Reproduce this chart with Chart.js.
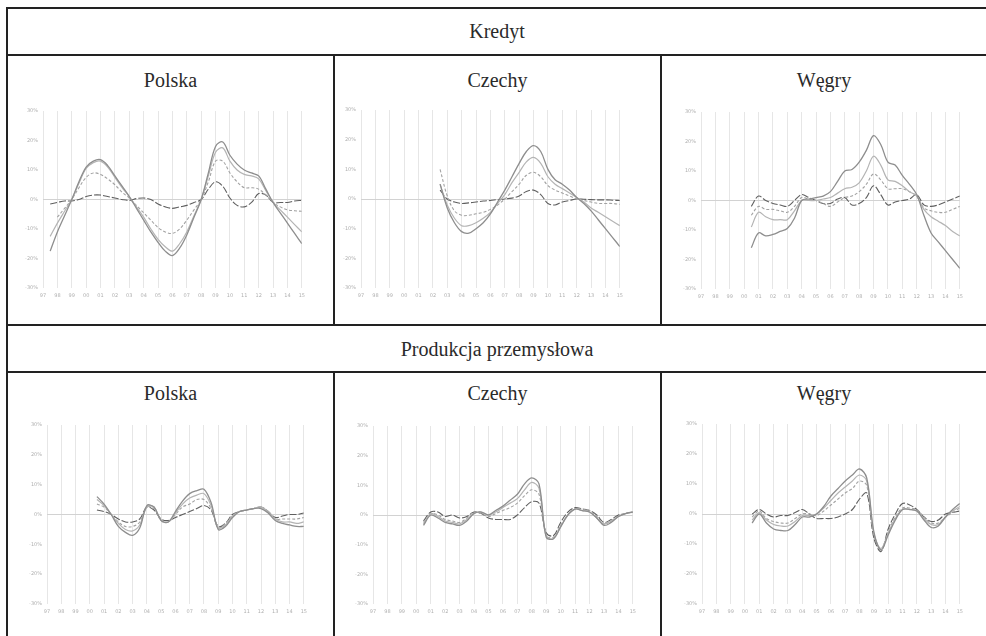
<!DOCTYPE html>
<html>
<head>
<meta charset="utf-8">
<script src="https://cdn.jsdelivr.net/npm/chart.js@4.4.1/dist/chart.umd.min.js"></script>
<style>
    html, body { margin: 0; padding: 0; background: #fff; }
    body { width: 986px; height: 636px; position: relative; overflow: hidden; font-family: "Liberation Serif", serif; }
    .hl, .vl { position: absolute; background: #222; }
    .hl { height: 2px; }
    .vl { width: 2px; }
    .title { position: absolute; text-align: center; font-size: 20px; color: #2a2a2a; line-height: 24px; }
    canvas { position: absolute; }
</style>
</head>
<body>
<div class="hl" style="left:6px; top:7px; width:990px;"></div>
<div class="hl" style="left:6px; top:54px; width:990px;"></div>
<div class="hl" style="left:6px; top:324px; width:990px;"></div>
<div class="hl" style="left:6px; top:371px; width:990px;"></div>
<div class="vl" style="left:6px; top:7px; height:640px;"></div>
<div class="vl" style="left:333px; top:54px; height:271px;"></div>
<div class="vl" style="left:660px; top:54px; height:271px;"></div>
<div class="vl" style="left:333px; top:371px; height:270px;"></div>
<div class="vl" style="left:660px; top:371px; height:270px;"></div>

<div class="title" style="left:8px; width:978px; top:19px;">Kredyt</div>
<div class="title" style="left:8px; width:325px; top:68px;">Polska</div>
<div class="title" style="left:335px; width:325px; top:68px;">Czechy</div>
<div class="title" style="left:662px; width:324px; top:68px;">Węgry</div>
<div class="title" style="left:8px; width:978px; top:337px;">Produkcja przemysłowa</div>
<div class="title" style="left:8px; width:325px; top:381px;">Polska</div>
<div class="title" style="left:335px; width:325px; top:381px;">Czechy</div>
<div class="title" style="left:662px; width:324px; top:381px;">Węgry</div>

<canvas id="c1"></canvas>
<canvas id="c2"></canvas>
<canvas id="c3"></canvas>
<canvas id="c4"></canvas>
<canvas id="c5"></canvas>
<canvas id="c6"></canvas>

<script>
// half-year time points, 1997 .. 2015
const t = [1997, 1997.5, 1998, 1998.5, 1999, 1999.5, 2000, 2000.5, 2001, 2001.5,
           2002, 2002.5, 2003, 2003.5, 2004, 2004.5, 2005, 2005.5, 2006, 2006.5,
           2007, 2007.5, 2008, 2008.5, 2009, 2009.5, 2010, 2010.5, 2011, 2011.5,
           2012, 2012.5, 2013, 2013.5, 2014, 2014.5, 2015];
const yearMin = 1997;
const yearMax = 2015;
const yMin = -30;
const yMax = 30;

// Kredyt - Polska
const krPL_a = [null, -17.5, -11, -5.5, 0, 6, 11, 13, 13.5, 11.5, 8, 4.5, 1, -3, -7, -11, -14.5, -17.5, -19, -16.5, -12, -6, 0, 9, 18, 19.5, 15, 12, 10, 9, 8, 3.5, -1, -4.5, -8, -11.5, -15];
const krPL_b = [null, -12.5, -8, -4, 0, 5.5, 10.5, 12.5, 13, 11, 7.5, 4, 1, -2.5, -6, -10, -13.5, -16, -17.5, -15, -11, -5.5, 0, 8, 16, 17.5, 13, 10, 8.5, 8, 7, 3, -1, -3.5, -6, -8.5, -11];
const krPL_c = [null, null, -6, -3, 0, 4, 7.5, 9, 8.5, 7, 5, 2.5, 0.5, -2, -4.5, -7, -9.5, -11, -11.5, -10, -7, -3.5, 0, 6, 13, 13, 9, 6, 4, 4, 3.5, 1.5, -1, -2.5, -3.5, -3.8, -4];
const krPL_d = [null, -1.5, -1, -0.5, -0.5, 0, 1, 1.5, 1.5, 1, 0.5, 0, -0.3, 0.3, 0.5, 0, -1.5, -2.5, -3, -2.5, -2, -1, 0, 3.5, 6, 4.5, 0.5, -2, -2.5, -1, 2, 1.5, -1, -1, -1, -0.5, -0.3];

// Kredyt - Czechy
const krCZ_a = [null, null, null, null, null, null, null, null, null, null, null, 5, -3, -8, -11, -11.5, -10, -8, -5, -1, 3, 7.5, 12, 16, 18, 16, 10, 6.5, 5, 3, 0.5, -1.5, -4, -7, -10, -13, -16];
const krCZ_b = [null, null, null, null, null, null, null, null, null, null, null, 5, -2, -6.5, -9, -9, -8, -6.5, -4.5, -1.5, 1.5, 5.5, 9, 12.5, 14, 12, 7.5, 5, 3.5, 2, 0.5, -1, -3, -4.5, -6, -7.5, -9];
const krCZ_c = [null, null, null, null, null, null, null, null, null, null, null, 10, 1, -4, -5.5, -5.5, -5, -4.5, -3.5, -2, 0, 2.5, 5, 8, 9, 7.5, 4.5, 3, 2, 1, 0, -0.5, -1, -1.5, -1.5, -1.5, -1.8];
const krCZ_d = [null, null, null, null, null, null, null, null, null, null, null, 3, 0, -1, -1.5, -1.3, -1, -0.7, -0.5, -0.2, 0, 0.3, 1, 2.5, 3, 1.5, -1.5, -2, -1, -0.5, 0, -0.1, -0.2, -0.3, -0.3, -0.4, -0.5];

// Kredyt - Węgry
const krHU_a = [null, null, null, null, null, null, null, -16, -11, -12, -11.5, -10.5, -9.5, -6, 0, 0.5, 1, 1.5, 3, 6.5, 10, 10.5, 13, 17, 22, 19, 13, 12, 8.5, 5.5, 2, -5, -11, -14, -17, -20, -23];
const krHU_b = [null, null, null, null, null, null, null, -9, -4, -5.5, -6.5, -6.5, -6.5, -3.5, 0, 0, 0, 0.5, 1, 2.5, 4, 4.5, 6, 10, 15, 12, 7, 6.5, 5, 3, 1.5, -3, -5.5, -7, -8.5, -10.5, -12];
const krHU_c = [null, null, null, null, null, null, null, -5, -2, -3, -3, -3.5, -4, -2, 1, 0.5, 0, -1, -2, -0.5, 1, 1.5, 3, 5.5, 9, 7, 4, 4, 4, 3, 1.5, -2.5, -3.5, -4, -4, -3, -2];
const krHU_d = [null, null, null, null, null, null, null, -2, 1.5, 0, -1, -1.5, -2, 0, 2, 1, 0, -1, -1, 0.5, 1, -1.5, -1, 1, 5, 2, -1.5, -0.5, 0, 0.5, 2, -1.5, -2, -1.5, -0.5, 0.5, 1.5];

// Produkcja przemysłowa - Polska
const prPL_a = [null, null, null, null, null, null, null, 6, 3.5, 0, -4, -6, -7, -4.5, 3, 2.5, -2, -2.5, 1, 4.5, 7, 8, 8.5, 4, -5, -4, -1, 1, 1.5, 2, 2, 0.5, -2, -3, -3.5, -4, -4];
const prPL_b = [null, null, null, null, null, null, null, 5, 3, 0, -3, -5, -5.5, -3.5, 2.5, 2.5, -2, -2.5, 0.5, 3.5, 5.5, 6.5, 7, 3, -4.5, -3.5, -0.5, 1, 1.5, 2, 2.5, 1, -1.5, -2.5, -2.5, -3, -2.5];
const prPL_c = [null, null, null, null, null, null, null, 3.5, 2.5, 0, -2.5, -4, -4, -2.5, 2.5, 2, -2, -2.5, 0, 2.5, 3.5, 5, 5, 2, -4.5, -3, -0.5, 1, 1.5, 2, 2.5, 1, -1.5, -1.5, -1.5, -1.5, -1];
const prPL_d = [null, null, null, null, null, null, null, 1.5, 1, 0, -1.5, -2.5, -2.5, -1.5, 2.5, 1.5, -1.5, -2, -1, 0, 1, 2, 3, 1.5, -4, -3, 0, 1, 1.5, 2, 2.5, 1, -1, -0.5, 0, 0, 0.5];

// Produkcja przemysłowa - Czechy
const prCZ_a = [null, null, null, null, null, null, null, -3.5, 0, -1, -2.5, -3, -3.5, -2, 0.5, 1, 0, 1.5, 3, 5, 7, 10.5, 12.5, 10.5, -7.5, -8, -4, 0, 2, 1.5, 1, -1, -3.5, -2.5, -0.5, 0.5, 1];
const prCZ_b = [null, null, null, null, null, null, null, -3, 0.5, -0.5, -2, -2.5, -3, -1.5, 0.5, 1, 0, 1, 2.5, 4, 5.5, 8.5, 11, 9, -7, -8, -4, 0, 2, 1.5, 1, -1, -3, -2, -0.5, 0.5, 1];
const prCZ_c = [null, null, null, null, null, null, null, -2.5, 0.5, 0, -1.5, -2, -2.5, -1, 1, 0.5, -0.5, 0.5, 1.5, 2.5, 4, 6.5, 8.5, 7, -7, -7.5, -3.5, 0, 2, 2, 1.5, -0.5, -3, -2, -0.5, 0.5, 1];
const prCZ_d = [null, null, null, null, null, null, null, -2, 1, 1, -0.5, 0, -1, -0.5, 1, 0.5, -1, -1.5, -1.5, -1.5, 0, 2.5, 4.5, 4, -6, -7, -2.5, 1, 2.5, 2, 1.5, 0, -2.5, -1.5, 0, 0.5, 1];

// Produkcja przemysłowa - Węgry
const prHU_a = [null, null, null, null, null, null, null, -3, 0, -3, -5, -5.5, -5.5, -3.5, -1, -1, 0, 2.5, 6, 8.5, 11, 13, 15, 12, -6, -12, -7, -2, 1.5, 1.5, 1, -2, -4.5, -4, -1, 1.5, 3.5];
const prHU_b = [null, null, null, null, null, null, null, -2, 0.5, -2, -3.5, -4, -4, -2.5, -0.5, -0.5, 0, 2, 4.5, 7, 9, 11, 13, 11, -6.5, -11.5, -6.5, -1.5, 1.5, 1.5, 1, -1.5, -3.5, -3.5, -1, 1, 2.5];
const prHU_c = [null, null, null, null, null, null, null, -1, 1, -1.5, -2.5, -3, -3, -1.5, 0, 0, -0.5, 1, 3, 5, 7, 8.5, 11, 9.5, -7, -11.5, -6, -1, 2, 2, 1.5, -1, -3, -3, -1, 0.5, 2];
const prHU_d = [null, null, null, null, null, null, null, 0, 1.5, 0, -1, -0.5, -0.5, 0.5, 1.5, 0, -1.5, -1.5, -1.5, -1, 0, 1.5, 5, 7, -8, -12.5, -5, 0, 3.5, 3, 1.5, -1, -2.5, -2, 0, 0.5, 1];

const lineStyles = [
    { color: '#8e8e8e', width: 1.3, dash: [] },
    { color: '#b4b4b4', width: 1.2, dash: [] },
    { color: '#a2a2a2', width: 1.1, dash: [3, 2] },
    { color: '#5f5f5f', width: 1.1, dash: [7, 2] }
];

// plot areas [left, top, right, bottom]
const charts = [
    { id: 'c1', area: [43, 109, 302, 288], series: [krPL_a, krPL_b, krPL_c, krPL_d] },
    { id: 'c2', area: [361, 108, 620, 288], series: [krCZ_a, krCZ_b, krCZ_c, krCZ_d] },
    { id: 'c3', area: [701, 110, 960, 289], series: [krHU_a, krHU_b, krHU_c, krHU_d] },
    { id: 'c4', area: [47, 423, 304, 604], series: [prPL_a, prPL_b, prPL_c, prPL_d] },
    { id: 'c5', area: [373, 424, 633, 604], series: [prCZ_a, prCZ_b, prCZ_c, prCZ_d] },
    { id: 'c6', area: [702, 422, 960, 604], series: [prHU_a, prHU_b, prHU_c, prHU_d] }
];

const yAxisW = 34;
const xAxisH = 18;
const padTop = 6;
const padRight = 8;

function toPoints(values) {
    return t.map((x, i) => ({ x: x, y: values[i] })).filter(p => p.y !== null);
}

charts.forEach(function (c) {
    const [L, T, R, B] = c.area;
    const canvas = document.getElementById(c.id);
    canvas.style.left = (L - yAxisW) + 'px';
    canvas.style.top = (T - padTop) + 'px';
    canvas.width = (R - L) + yAxisW + padRight;
    canvas.height = (B - T) + padTop + xAxisH;

    // draw the dark, small series last so it sits on top
    const datasets = c.series.map((s, i) => ({
        data: toPoints(s),
        borderColor: lineStyles[i].color,
        borderWidth: lineStyles[i].width,
        borderDash: lineStyles[i].dash,
        pointRadius: 0,
        tension: 0.35,
        fill: false
    }));

    new Chart(canvas.getContext('2d'), {
        type: 'line',
        data: { datasets: datasets },
        options: {
            responsive: false,
            animation: false,
            layout: { padding: { top: padTop, right: padRight, left: 0, bottom: 0 } },
            plugins: { legend: { display: false }, tooltip: { enabled: false } },
            scales: {
                x: {
                    type: 'linear',
                    min: yearMin,
                    max: yearMax,
                    afterFit: function (scale) { scale.height = xAxisH; },
                    border: { display: false },
                    grid: { color: '#e6e6e6', lineWidth: 1, drawTicks: false },
                    ticks: {
                        stepSize: 1,
                        autoSkip: false,
                        maxRotation: 0,
                        padding: 5,
                        color: '#b0b0b0',
                        font: { size: 5, family: 'DejaVu Sans' },
                        callback: v => String(v).slice(2)
                    }
                },
                y: {
                    min: yMin,
                    max: yMax,
                    afterFit: function (scale) { scale.width = yAxisW; },
                    border: { display: false },
                    grid: {
                        color: ctx => ctx.tick && ctx.tick.value === 0 ? '#d2d2d2' : 'rgba(0,0,0,0)',
                        drawTicks: false
                    },
                    ticks: {
                        stepSize: 10,
                        padding: 5,
                        color: '#b0b0b0',
                        font: { size: 5, family: 'DejaVu Sans' },
                        callback: v => v + '%'
                    }
                }
            }
        }
    });
});
</script>
</body>
</html>
